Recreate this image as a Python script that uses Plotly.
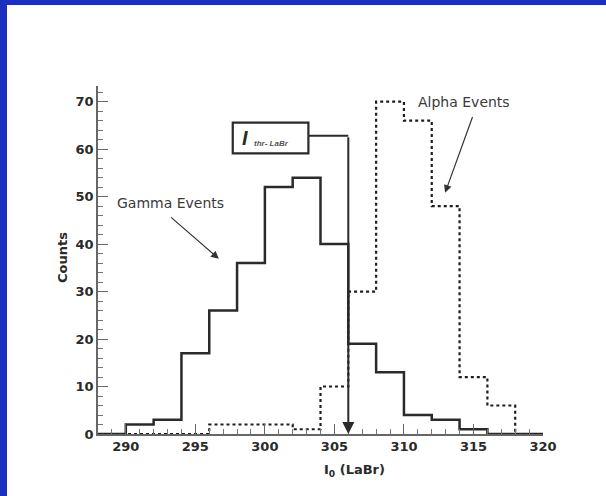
import plotly.graph_objects as go

# ---- data ----
bin_edges = [288, 290, 292, 294, 296, 298, 300, 302, 304, 306, 308, 310, 312, 314, 316, 318, 320]
gamma_counts = [0, 2, 3, 17, 26, 36, 52, 54, 40, 19, 13, 4, 3, 1, 0, 0]
alpha_counts = [0, 0, 0, 0, 2, 2, 2, 1, 10, 30, 70, 66, 48, 12, 6, 0]
x_ticks = [290, 295, 300, 305, 310, 315, 320]
y_ticks = [0, 10, 20, 30, 40, 50, 60, 70]
threshold = 306
threshold_level = 62.8

FONT = "DejaVu Sans"
DARK = "#2a2a2a"

def step(counts):
    return counts + [counts[-1]]

fig = go.Figure()
fig.add_trace(go.Scatter(x=bin_edges, y=step(gamma_counts), mode="lines",
                         line=dict(shape="hv", color=DARK, width=2.5),
                         name="Gamma Events", showlegend=False))
fig.add_trace(go.Scatter(x=bin_edges, y=step(alpha_counts), mode="lines",
                         line=dict(shape="hv", color="#1e1e1e", width=2.2, dash="dot"),
                         name="Alpha Events", showlegend=False))

L, R, T, B = 98, 63, 86, 62
W, H = 606 - L - R, 496 - T - B

def px_x(px):
    return (px - L) / W

def px_y(py):
    return (496 - B - py) / H

shapes = [
    # blue border left and top
    dict(type="rect", xref="paper", yref="paper", x0=px_x(0), x1=px_x(7), y0=px_y(496), y1=px_y(0),
         fillcolor="#1c30c0", line=dict(width=0), layer="above"),
    dict(type="rect", xref="paper", yref="paper", x0=px_x(0), x1=px_x(606), y0=px_y(5), y1=px_y(0),
         fillcolor="#1c30c0", line=dict(width=0), layer="above"),
    # threshold label box
    dict(type="rect", xref="x", yref="y", x0=297.69, x1=303.13, y0=59.1, y1=65.6,
         line=dict(color=DARK, width=2.2), fillcolor="rgba(0,0,0,0)"),
    dict(type="line", xref="x", yref="y", x0=303.13, x1=threshold, y0=threshold_level, y1=threshold_level,
         line=dict(color=DARK, width=2)),
]

annotations = [
    dict(x=threshold, y=0, ax=threshold, ay=threshold_level, xref="x", yref="y", axref="x", ayref="y",
         text="", showarrow=True, arrowhead=2, arrowsize=1.2, arrowwidth=2, arrowcolor=DARK),
    dict(x=296.69, y=36.9, ax=293.15, ay=45.9, xref="x", yref="y", axref="x", ayref="y",
         text="", showarrow=True, arrowhead=2, arrowsize=1.3, arrowwidth=1.2, arrowcolor="#333"),
    dict(x=312.96, y=50.8, ax=314.97, ay=67.1, xref="x", yref="y", axref="x", ayref="y",
         text="", showarrow=True, arrowhead=2, arrowsize=1.3, arrowwidth=1.2, arrowcolor="#333"),
    dict(x=293.18, y=48.6, xref="x", yref="y", text="Gamma Events", showarrow=False,
         xanchor="center", yanchor="middle",
         font=dict(family=FONT, size=14, color="#3a3a3a")),
    dict(x=314.32, y=69.95, xref="x", yref="y", text="Alpha Events", showarrow=False,
         xanchor="center", yanchor="middle",
         font=dict(family=FONT, size=14, color="#3a3a3a")),
    dict(x=298.57, y=62.4, xref="x", yref="y", text="<b><i>I</i></b>", showarrow=False,
         xanchor="center", yanchor="middle",
         font=dict(family="Liberation Sans", size=20, color=DARK)),
    dict(x=300.45, y=61.1, xref="x", yref="y", text="<b><i>thr- LaBr</i></b>", showarrow=False,
         xanchor="center", yanchor="middle",
         font=dict(family="Liberation Sans", size=8, color="#555")),
    dict(x=px_x(62), y=px_y(258), xref="paper", yref="paper", text="<b>Counts</b>", textangle=-90,
         xanchor="center", yanchor="middle",
         showarrow=False, font=dict(family=FONT, size=13, color=DARK)),
    dict(x=px_x(354), y=px_y(470), xref="paper", yref="paper", text="<b>I<sub>0</sub> (LaBr)</b>",
         xanchor="center", yanchor="middle",
         showarrow=False, font=dict(family=FONT, size=13, color=DARK)),
]

fig.update_layout(
    width=606, height=496,
    margin=dict(l=L, r=R, t=T, b=B, pad=0),
    paper_bgcolor="white", plot_bgcolor="white",
    shapes=shapes, annotations=annotations,
    showlegend=False,
)
fig.update_xaxes(range=[288, 320], tickvals=x_ticks, ticktext=[str(v) for v in x_ticks],
                 showgrid=False, zeroline=False, showline=True, linecolor="#666", linewidth=1.5,
                 ticks="inside", ticklen=10, tickwidth=1.3, tickcolor="#666",
                 minor=dict(ticks="inside", ticklen=5, tickwidth=1.2, tickcolor="#777", dtick=1, tick0=288, showgrid=False),
                 tickfont=dict(family=FONT, size=13, color=DARK, weight="bold"))
fig.update_yaxes(range=[0, 73.3], tickvals=y_ticks, ticktext=[str(v) for v in y_ticks],
                 showgrid=False, zeroline=False, showline=True, linecolor="#666", linewidth=1.5,
                 ticks="inside", ticklen=10, tickwidth=1.3, tickcolor="#666",
                 minor=dict(ticks="inside", ticklen=5, tickwidth=1.2, tickcolor="#777", dtick=2, tick0=0, showgrid=False),
                 tickfont=dict(family=FONT, size=13, color=DARK, weight="bold"))

fig.write_html("out.html", config={"displayModeBar": False})
